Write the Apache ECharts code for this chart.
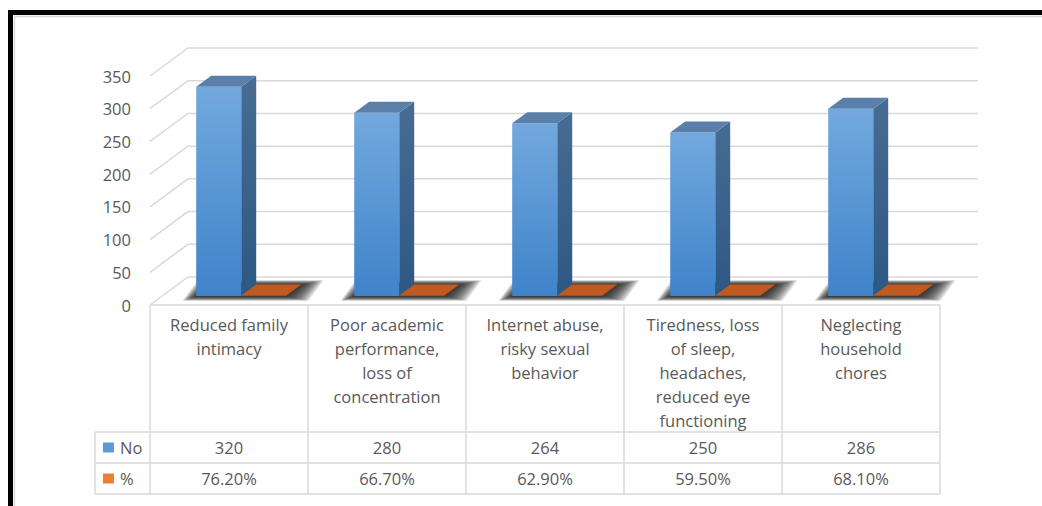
<!DOCTYPE html>
<html>
<head>
<meta charset="utf-8">
<script src="https://cdn.jsdelivr.net/npm/echarts@6/dist/echarts.min.js"></script>
<style>
  html, body { margin: 0; padding: 0; background: #ffffff; }
  #chart { width: 1042px; height: 506px; }
</style>
</head>
<body>
<div id="chart"></div>
<script>
// ---- data ----
const categories = [
  'Reduced family\nintimacy',
  'Poor academic\nperformance,\nloss of\nconcentration',
  'Internet abuse,\nrisky sexual\nbehavior',
  'Tiredness, loss\nof sleep,\nheadaches,\nreduced eye\nfunctioning',
  'Neglecting\nhousehold\nchores'
];
const seriesNames = ['No', '%'];
const countValues = [320, 280, 264, 250, 286];
const percentValues = [0.762, 0.667, 0.629, 0.595, 0.681];
const valueTicks = [0, 50, 100, 150, 200, 250, 300, 350];

// ---- styling ----
const FONT_FAMILY = '"Open Sans"';
const FONT_SIZE = 16.5;
const TEXT_COLOR = '#595959';
const LINE_COLOR = '#d9d9d9';
const DEPTH = [38, -28];        // projected depth of the floor
const PLANE = 9 / 28;           // bars stand this far behind the front edge
const BAR_DEPTH = [15, -11];    // projected depth of one bar
const BAR_FRAC = 45 / 158;      // bar width as a share of a category band
const HEADER_H = 127, ROW_H = 31, LINE_H = 24;

const font = FONT_SIZE + 'px ' + FONT_FAMILY;
const n = categories.length;

const chart = echarts.init(document.getElementById('chart'), null, { renderer: 'svg' });

function line(x1, y1, x2, y2, color, width) {
  return { type: 'line', shape: { x1, y1, x2, y2 },
           style: { stroke: color || LINE_COLOR, lineWidth: width || 1.5 } };
}
function text(t, x, y, align) {
  return { type: 'text', style: { text: t, x, y, align: align || 'center',
           verticalAlign: 'middle', fill: TEXT_COLOR, font } };
}

// gridlines on the left wall and back wall
function renderWalls(params, api) {
  const v = api.value(1);
  const p = api.coord([0, v]);
  const w = api.size([1, 0])[0];
  const x0 = p[0] - w / 2, x1 = x0 + n * w;
  const fx = x0 - PLANE * DEPTH[0], fy = p[1] - PLANE * DEPTH[1];
  const bx = x0 + (1 - PLANE) * DEPTH[0], by = p[1] + (1 - PLANE) * DEPTH[1];
  const bx1 = x1 + (1 - PLANE) * DEPTH[0];
  return { type: 'polyline', shape: { points: [[fx, fy], [bx, by], [bx1, by]] },
           style: { stroke: LINE_COLOR, lineWidth: 1.5, fill: null } };
}

// soft shadow on the floor under each pair of bars, built from many stacked
// translucent footprints that widen outwards
function renderShadow(params, api) {
  const i = api.value(0);
  const p = api.coord([i, 0]);
  const bw = api.size([1, 0])[0] * BAR_FRAC;
  const xa = p[0] - bw, xb = p[0] + bw, y0 = p[1];
  const dx = BAR_DEPTH[0], dy = BAR_DEPTH[1];
  const layers = [];
  for (let k = 16; k >= 0; k--) {
    const l = 0.85 * k, r = 1.4 * k, v = 0.3 * k;
    layers.push({
      type: 'polygon',
      shape: { points: [[xa - l, y0 + v], [xb + r, y0 + v],
                        [xb + r + dx, y0 + dy - v], [xa - l + dx, y0 + dy - v]] },
      style: { fill: 'rgba(25,25,25,0.11)' }
    });
  }
  return { type: 'group', children: layers };
}

function makeBarRenderer(slot, colors) {
  return function (params, api) {
    const i = api.value(0), v = api.value(1);
    const base = api.coord([i, 0]);
    const tip = api.coord([i, v]);
    const bw = api.size([1, 0])[0] * BAR_FRAC;
    const xa = base[0] + slot * bw, xb = xa + bw;
    const y0 = base[1], y1 = Math.min(tip[1], y0 - 0.5);
    const dx = BAR_DEPTH[0], dy = BAR_DEPTH[1];
    return {
      type: 'group',
      children: [
        { type: 'polygon',
          shape: { points: [[xb, y1], [xb + dx, y1 + dy], [xb + dx, y0 + dy], [xb, y0]] },
          style: { fill: new echarts.graphic.LinearGradient(0, 0, 0, 1,
                   [{ offset: 0, color: colors.side[0] }, { offset: 1, color: colors.side[1] }]) } },
        { type: 'rect', shape: { x: xa, y: y1, width: bw, height: y0 - y1 },
          style: { fill: new echarts.graphic.LinearGradient(0, 0, 0, 1,
                   [{ offset: 0, color: colors.front[0] }, { offset: 1, color: colors.front[1] }]) } },
        { type: 'polygon',
          shape: { points: [[xa, y1], [xb, y1], [xb + dx, y1 + dy], [xa + dx, y1 + dy]] },
          style: { fill: colors.top } }
      ]
    };
  };
}

const keyColors = ['#5b9bd5', '#ed7d31'];

function renderTable(params, api) {
  const i = api.value(0);
  const p = api.coord([i, 0]);
  const w = api.size([1, 0])[0];
  const left = p[0] - w / 2, right = left + w, top = p[1];
  const r1 = top + HEADER_H, r2 = r1 + ROW_H, r3 = r2 + ROW_H;
  const kids = [];
  kids.push(line(left, top, right, top));
  kids.push(line(left, r1, right, r1));
  kids.push(line(left, r2, right, r2));
  kids.push(line(left, r3, right, r3));
  kids.push(line(right, top, right, r3));
  if (i === 0) {
    const lx = left - 55;
    kids.push(line(left, top, left, r3));
    kids.push(line(lx, r1, left, r1));
    kids.push(line(lx, r2, left, r2));
    kids.push(line(lx, r3, left, r3));
    kids.push(line(lx, r1, lx, r3));
    seriesNames.forEach((name, k) => {
      const cy = r1 + ROW_H * k + ROW_H / 2;
      kids.push({ type: 'rect', shape: { x: lx + 8, y: cy - 5, width: 11, height: 10 },
                  style: { fill: keyColors[k] } });
      kids.push(text(name, lx + 25, cy, 'left'));
    });
  }
  categories[i].split('\n').forEach((t, k) => kids.push(text(t, p[0], top + 19 + k * LINE_H)));
  kids.push(text(String(api.value(1)), p[0], r1 + ROW_H / 2));
  kids.push(text((api.value(2) * 100).toFixed(2) + '%', p[0], r2 + ROW_H / 2));
  return { type: 'group', children: kids };
}

const tableData = categories.map((c, i) => [i, countValues[i], percentValues[i]]);

chart.setOption({
  animation: false,
  backgroundColor: '#ffffff',
  grid: [
    { left: 162.2, top: 67, width: 790, height: 229 },   // plane the bars stand in
    { left: 150, top: 76, width: 790, height: 229 }      // front edge: value labels and table
  ],
  xAxis: [
    { gridIndex: 0, type: 'category', data: categories, show: false },
    { gridIndex: 1, type: 'category', data: categories, show: false }
  ],
  yAxis: [
    { gridIndex: 0, type: 'value', min: 0, max: 350, interval: 50, show: false },
    { gridIndex: 1, type: 'value', min: 0, max: 350, interval: 50,
      axisLine: { show: false }, axisTick: { show: false }, splitLine: { show: false },
      axisLabel: { color: TEXT_COLOR, fontFamily: 'Open Sans', fontSize: FONT_SIZE, margin: 19 } }
  ],
  graphic: [
    { type: 'line', shape: { x1: 14.5, y1: 16.5, x2: 1042, y2: 16.5 }, style: { stroke: LINE_COLOR, lineWidth: 1.5 } },
    { type: 'line', shape: { x1: 14.5, y1: 16.5, x2: 14.5, y2: 506 }, style: { stroke: LINE_COLOR, lineWidth: 1.5 } },
    { type: 'rect', shape: { x: 8, y: 10, width: 1034, height: 5 }, style: { fill: '#000000' } },
    { type: 'rect', shape: { x: 8, y: 10, width: 5, height: 496 }, style: { fill: '#000000' } }
  ],
  series: [
    { type: 'custom', name: 'walls', xAxisIndex: 0, yAxisIndex: 0, z: 1,
      data: valueTicks.map(v => [0, v]), renderItem: renderWalls, silent: true },
    { type: 'custom', name: 'shadow', xAxisIndex: 0, yAxisIndex: 0, z: 2,
      data: categories.map((c, i) => [i, 0]), renderItem: renderShadow, silent: true },
    { type: 'custom', name: seriesNames[0], xAxisIndex: 0, yAxisIndex: 0, z: 3,
      data: countValues.map((v, i) => [i, v]),
      renderItem: makeBarRenderer(-1, { front: ['#72a9de', '#3f83c9'], side: ['#486c93', '#2d5883'], top: '#5a80aa' }) },
    { type: 'custom', name: seriesNames[1], xAxisIndex: 0, yAxisIndex: 0, z: 4,
      data: percentValues.map((v, i) => [i, v]),
      renderItem: makeBarRenderer(0, { front: ['#b4521a', '#a04816'], side: ['#8e4014', '#8e4014'], top: '#c05a1e' }) },
    { type: 'custom', name: 'table', xAxisIndex: 1, yAxisIndex: 1, z: 5,
      data: tableData, renderItem: renderTable, silent: true }
  ]
});
</script>
</body>
</html>
